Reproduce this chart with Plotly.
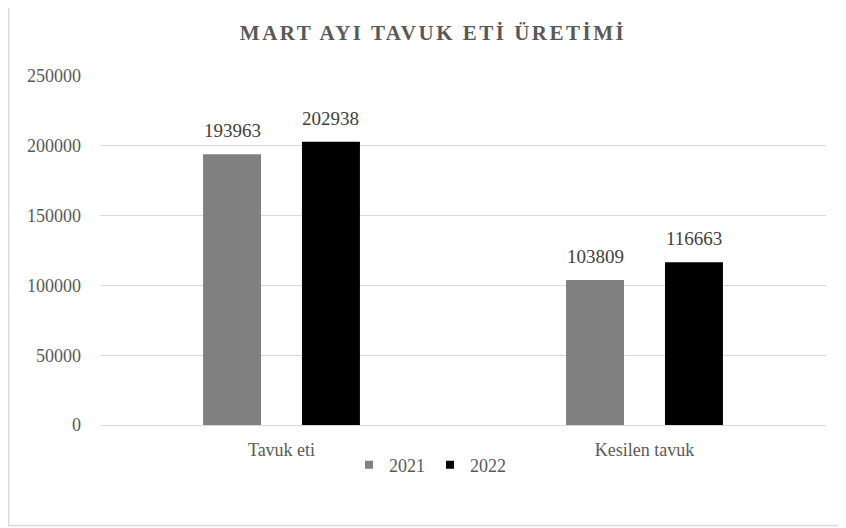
import plotly.graph_objects as go

categories = ["Tavuk eti", "Kesilen tavuk"]
series_names = ["2021", "2022"]
values_2021 = [193963, 103809]
values_2022 = [202938, 116663]
colors = ["#808080", "#000000"]

FONT = "Liberation Serif, Times New Roman, serif"
TXT = "#595959"

# page has an 8px body margin, so figure is 838x520 offset by 8px
W, H = 838, 520
ml, mr, mt, mb = 92, 20, 68, 103
pw = W - ml - mr
ph = H - mt - mb
BARGAP, GROUPGAP = 0.455, 0.414

fig = go.Figure()
for name, vals, col in zip(series_names, [values_2021, values_2022], colors):
    fig.add_trace(go.Bar(
        name=name, x=categories, y=vals, marker=dict(color=col, line=dict(width=0)),
        showlegend=False,
    ))
    # legend entry with a small square swatch
    fig.add_trace(go.Scatter(
        name=name, x=[None], y=[None], mode="markers",
        marker=dict(symbol="square", size=8, color=col), showlegend=True,
    ))

# value labels above the bars
cat_px = pw / len(categories)
slot = (1 - BARGAP) / len(series_names) * cat_px
for i, vals in enumerate([values_2021, values_2022]):
    off = (i - (len(series_names) - 1) / 2) * slot
    for c, v in zip(categories, vals):
        fig.add_annotation(x=c, y=v, xref="x", yref="y", text=str(v), showarrow=False,
                           xshift=off, yshift=11, yanchor="bottom",
                           font=dict(family=FONT, size=19, color="#404040"))

fig.update_layout(
    width=W, height=H,
    margin=dict(l=ml, r=mr, t=mt, b=mb, autoexpand=False),
    paper_bgcolor="white", plot_bgcolor="white",
    barmode="group", bargap=BARGAP, bargroupgap=GROUPGAP,
    title=dict(text="<b><span style='letter-spacing:2.5px'>MART AYI TAVUK ETİ ÜRETİMİ</span></b>",
               x=(433 - 8) / W, xanchor="center",
               y=1 - 25 / H, yanchor="middle",
               font=dict(family=FONT, size=21, color=TXT)),
    font=dict(family=FONT, color=TXT, size=18),
    legend=dict(orientation="h", x=(430 - 8 - ml) / pw, xanchor="center",
                y=-40 / ph, yanchor="middle",
                font=dict(family=FONT, size=18, color=TXT), itemwidth=30,
                traceorder="normal"),
    showlegend=True,
    xaxis=dict(showgrid=False, showline=True, linecolor="#d9d9d9", linewidth=1,
               ticks="", ticklabelstandoff=8,
               tickfont=dict(family=FONT, size=18, color=TXT)),
    yaxis=dict(range=[0, 250000], dtick=50000, showgrid=True, gridcolor="#d9d9d9",
               gridwidth=1, zeroline=False, showline=False, ticks="",
               tickformat="d", ticklabelstandoff=18,
               tickfont=dict(family=FONT, size=18, color=TXT)),
)

# outer chart border (left and bottom visible)
x0 = (0.5 - ml) / pw
y0 = (H - 517.5 - mb) / ph
x1 = (W + 5 - ml) / pw
y1 = (H + 5 - mb) / ph
fig.add_shape(type="rect", xref="paper", yref="paper", x0=x0, y0=y0, x1=x1, y1=y1,
              line=dict(color="#d9d9d9", width=1.5), layer="below")

fig.write_html("out.html")
